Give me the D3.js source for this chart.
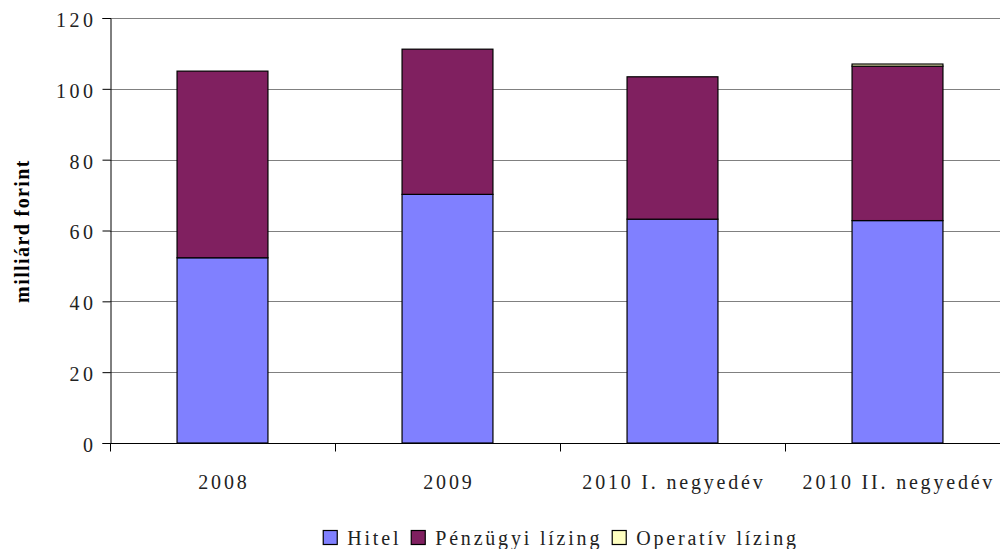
<!DOCTYPE html>
<html><head><meta charset="utf-8">
<script src="https://cdn.jsdelivr.net/npm/d3@7"></script>
<style>body{margin:0;background:#fff;} svg{display:block;} text{font-family:"Liberation Serif","Times New Roman",serif;}</style>
</head><body>
<script>
const categories = ["2008", "2009", "2010 I. negyedév", "2010 II. negyedév"];
const seriesNames = ["Hitel", "Pénzügyi lízing", "Operatív lízing"];
const hitel = [52.3, 70.2, 63.2, 62.8];
const penzugyi = [52.7, 41.0, 40.2, 43.6];
const operativ = [0, 0, 0, 0.6];
const colors = ["#8080ff", "#802060", "#ffffc0"];
const yTicks = [0, 20, 40, 60, 80, 100, 120];

const W = 1000, H = 549;
const m = {left: 110, top: 18, right: -10, bottom: 106};
const svg = d3.select("body").append("svg").attr("width", W).attr("height", H);

const x = d3.scaleBand().domain(categories).range([m.left, W - m.right]).paddingInner(0).paddingOuter(0);
const y = d3.scaleLinear().domain([0, 120]).range([H - m.bottom, m.top]);

const data = categories.map((c, i) => ({cat: c, "Hitel": hitel[i], "Pénzügyi lízing": penzugyi[i], "Operatív lízing": operativ[i]}));
const stack = d3.stack().keys(seriesNames)(data);

const font = '"Liberation Serif", "Times New Roman", serif';

// gridlines
svg.append("g").selectAll("line").data(yTicks.filter(d => d > 0)).join("line")
  .attr("x1", m.left).attr("x2", W).attr("y1", d => Math.round(y(d)) + 0.5).attr("y2", d => Math.round(y(d)) + 0.5)
  .attr("stroke", "#808080").attr("stroke-width", 1);

// bars
const bw = x.bandwidth() * 0.404;
stack.forEach((s, si) => {
  svg.append("g").selectAll("rect").data(s.filter(d => d[1] - d[0] > 0)).join("rect")
    .attr("x", d => x(d.data.cat) + (x.bandwidth() - bw) / 2)
    .attr("width", bw)
    .attr("y", d => y(d[1]))
    .attr("height", d => y(d[0]) - y(d[1]))
    .attr("fill", colors[si])
    .attr("stroke", "#000").attr("stroke-width", 1.2);
});

// y axis
const yAxis = d3.axisLeft(y).tickValues(yTicks).tickSize(8).tickPadding(6).tickFormat(d3.format("d"));
const ga = svg.append("g").attr("transform", `translate(${m.left + 0.5},0)`).call(yAxis);
ga.attr("font-family", null).attr("font-size", null);
ga.select(".domain").attr("stroke", "#000");
ga.selectAll(".tick line").attr("stroke", "#000");
ga.selectAll("text").style("font-family", font).style("font-size", "20px").attr("fill", "#222").style("letter-spacing", "3.5px").attr("dy", "0.42em");

// x axis
const xb = svg.append("g").attr("transform", `translate(0,${Math.round(y(0)) + 0.5})`);
xb.append("line").attr("x1", m.left).attr("x2", W).attr("stroke", "#000");
const bounds = categories.map(c => x(c)).concat([x(categories[categories.length - 1]) + x.bandwidth()]);
xb.selectAll("line.t").data(bounds).join("line").attr("class", "t")
  .attr("x1", d => Math.round(d) + 0.5).attr("x2", d => Math.round(d) + 0.5).attr("y1", 0).attr("y2", 8).attr("stroke", "#000");
xb.selectAll("text").data(categories).join("text")
  .attr("x", d => x(d) + x.bandwidth() / 2 + 1.4).attr("y", 45)
  .attr("text-anchor", "middle").style("font-family", font).style("font-size", "20px").style("letter-spacing", "2.8px").attr("fill", "#222").text(d => d);

// y title
svg.append("text").attr("transform", "translate(29,231) rotate(-90)").attr("text-anchor", "middle")
  .style("font-family", font).style("font-size", "20px").style("font-weight", "bold").style("letter-spacing", "1.4px").text("milliárd forint");

// legend
const lg = svg.append("g");
const items = lg.selectAll("g").data(seriesNames).join("g");
items.append("rect").attr("width", 14).attr("height", 14).attr("y", -14.5).attr("fill", (d, i) => colors[i]).attr("stroke", "#000").attr("stroke-width", 1.2);
items.append("text").attr("x", 24).attr("y", 0).style("font-family", font).style("font-size", "20px").style("letter-spacing", "2.8px").attr("fill", "#222").text(d => d);
let xpos = 0;
items.each(function() {
  d3.select(this).attr("transform", `translate(${xpos},0)`);
  xpos += this.getBBox().width + 10;
});
const totalW = xpos - 10;
lg.attr("transform", `translate(${561 - totalW / 2},545)`);
</script>
</body></html>
